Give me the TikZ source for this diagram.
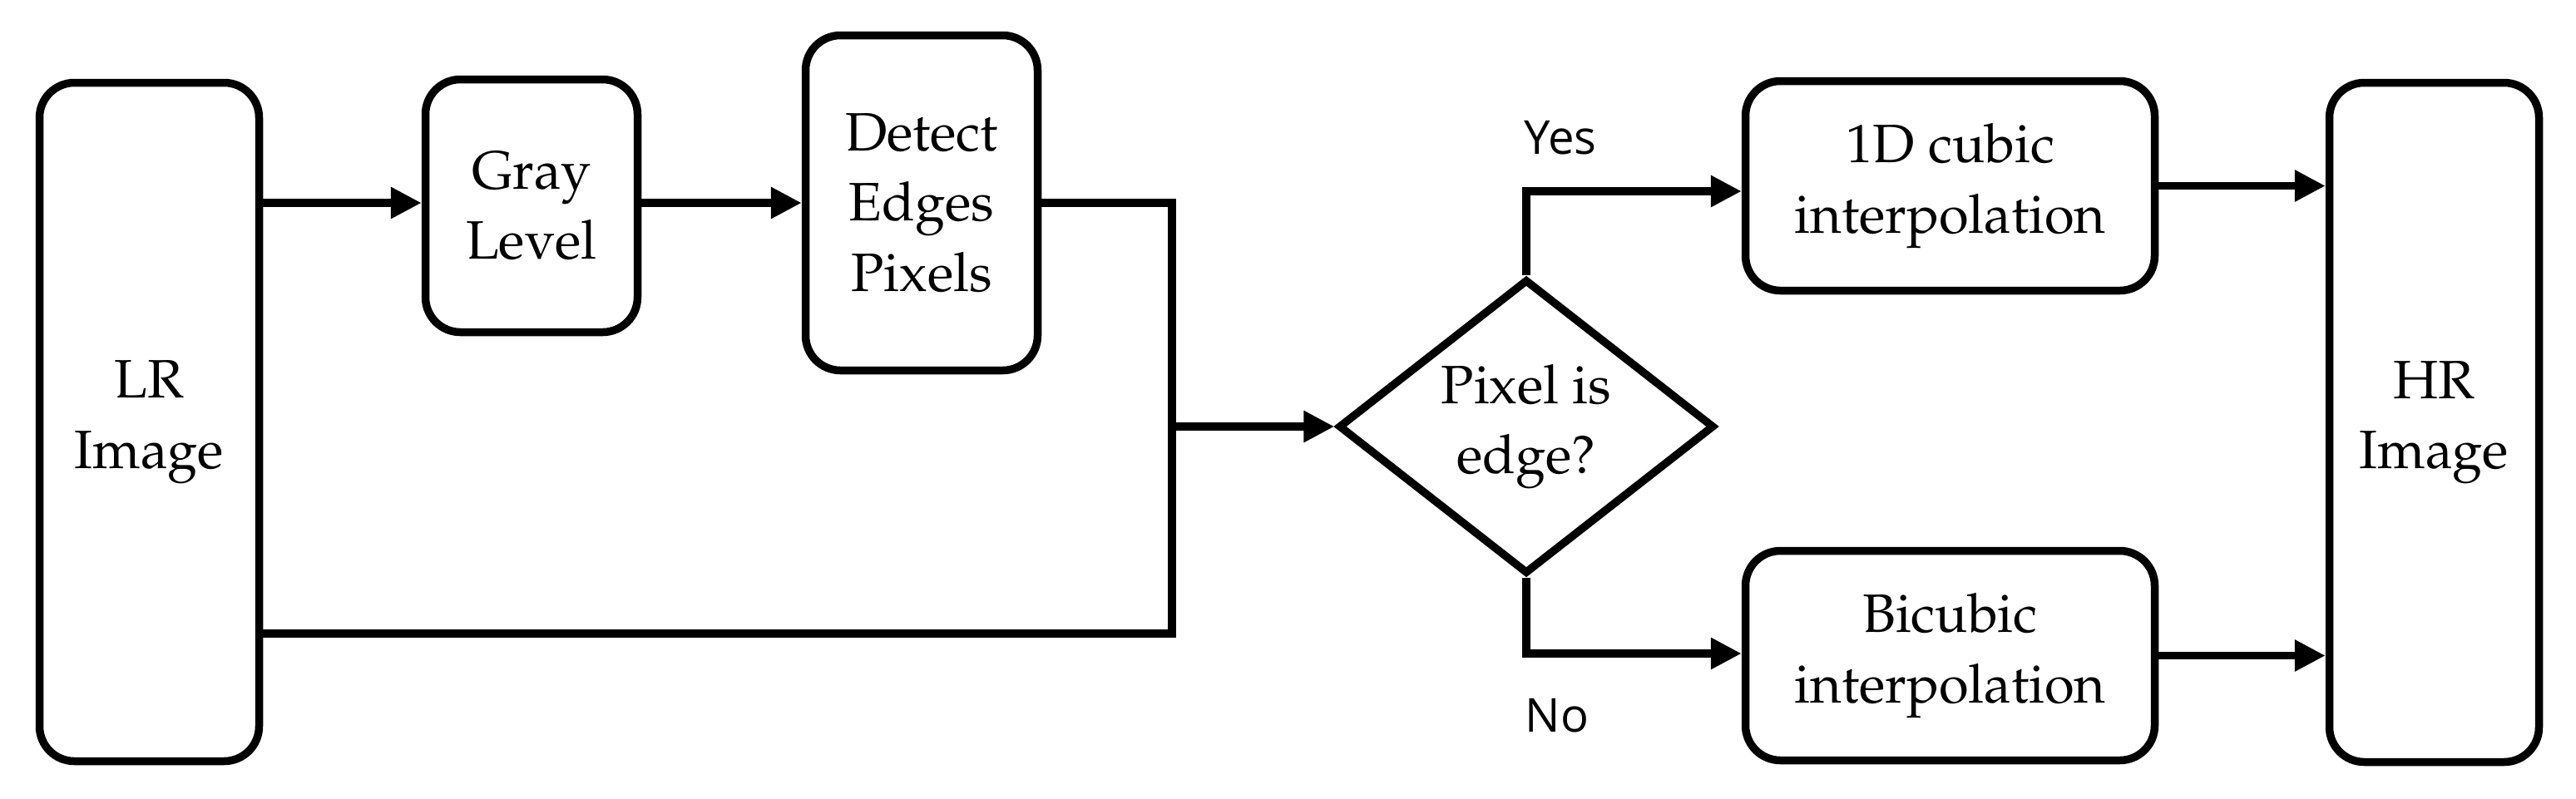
\documentclass[tikz,border=0pt]{standalone}
\usepackage[T1]{fontenc}
\usepackage{fontspec}
\newfontfamily\labfont{Open Sans}
\newcommand\palfont{\usefont{T1}{ppl}{m}{n}\fontsize{18.5}{24}\selectfont}
\usetikzlibrary{shapes.geometric,arrows.meta}
\tikzset{
  box/.style={draw,line width=0.095cm,rounded corners=0.42cm,align=center,inner sep=0pt,
    font=\palfont},
  dec/.style={draw,diamond,line width=0.095cm,align=center,inner sep=0pt,
    minimum width=4.52cm,minimum height=3.54cm,font=\palfont},
  conn/.style={line width=0.095cm},
  arr/.style={conn,-{Triangle[length=0.37cm,width=0.36cm]}},
  lab/.style={font=\labfont\fontsize{16}{19}\selectfont,inner sep=0pt}
}
\begin{document}
\begin{tikzpicture}
\useasboundingbox (0,0) rectangle (30.97,-9.60);
\node[box,minimum width=2.64cm,minimum height=8.16cm] (lr) at (1.795,-5.075) {LR\\Image};
\node[box,minimum width=2.55cm,minimum height=3.04cm] (gray) at (6.39,-2.475) {Gray\\Level};
\node[box,minimum width=2.79cm,minimum height=4.03cm] (det) at (11.08,-2.44) {Detect\\Edges\\Pixels};
\node[dec] (dia) at (18.35,-5.13) {Pixel is\\edge?};
\node[box,minimum width=4.92cm,minimum height=2.52cm] (cub) at (23.445,-2.235) {1D cubic\\interpolation};
\node[box,minimum width=4.92cm,minimum height=2.52cm] (bic) at (23.445,-7.885) {Bicubic\\interpolation};
\node[box,minimum width=2.52cm,minimum height=8.17cm] (hr) at (29.265,-5.08) {HR\\Image};
\node[lab] (yes) at (18.76,-1.66) {Yes};
\node[lab] (no) at (18.72,-8.61) {No};
\coordinate (jt) at (14.09,-2.44);
\coordinate (jb) at (14.09,-7.62);
\draw[arr] (det.west -| lr.east) -- (det.west -| gray.west);
\draw[arr] (gray.east |- det.west) -- (det.west);
\draw[conn] (det.east) -- (jt) -- (jb) -- (jb -| lr.east);
\draw[arr] (dia.west -| jb) -- (dia.west);
\draw[arr] (dia.north) |- ([yshift=-0.065cm]cub.west);
\draw[arr] (dia.south) |- ([yshift=0.025cm]bic.west);
\draw[arr] (cub.east) -- (cub.east -| hr.west);
\draw[arr] (bic.east) -- (bic.east -| hr.west);
\end{tikzpicture}
\end{document}
